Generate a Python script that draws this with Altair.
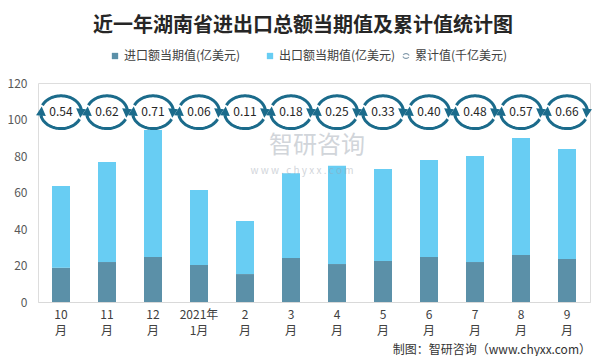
import altair as alt
import numpy as np
import pandas as pd

# ---------------- data ----------------
months = ["10月", "11月", "12月", "2021年1月", "2月", "3月", "4月", "5月", "6月", "7月", "8月", "9月"]
imports = [18.8, 21.9, 24.7, 20.3, 15.3, 24.1, 20.8, 22.5, 24.7, 21.9, 25.8, 23.6]
exports = [44.8, 54.8, 69.5, 41.1, 29.1, 46.4, 53.9, 50.4, 53.1, 58.1, 64.1, 60.2]
cumulative = [0.54, 0.62, 0.71, 0.06, 0.11, 0.18, 0.25, 0.33, 0.40, 0.48, 0.57, 0.66]
y_ticks = [0, 20, 40, 60, 80, 100, 120]

s_imp = "进口额当期值(亿美元)"
s_exp = "出口额当期值(亿美元)"
s_cum = "累计值(千亿美元)"

FONT = "Noto Sans CJK SC"
DARK = "#5b90a8"
LIGHT = "#68cdf3"
RING = "#1b6b8b"

bars = pd.DataFrame(
    [{"month": m, "series": s_imp, "value": v, "k": 0} for m, v in zip(months, imports)]
    + [{"month": m, "series": s_exp, "value": v, "k": 1} for m, v in zip(months, exports)]
)
cum = pd.DataFrame({"month": months, "cum": cumulative, "series": s_cum})

# ---------------- ring marker shape (style only) ----------------
RY = 0.8


def pt(deg):
    t = np.radians(deg)
    return np.cos(t), RY * np.sin(t)


def arc(a0, a1, n=40):
    pts = [pt(a) for a in np.linspace(a0, a1, n)]
    return "M" + " L".join(f"{x:.3f},{y:.3f}" for x, y in pts)


def head(base_deg, tip_deg, w=0.24):
    bx, by = pt(base_deg)
    tx, ty = pt(tip_deg)
    dx, dy = tx - bx, ty - by
    L = np.hypot(dx, dy)
    nx, ny = -dy / L, dx / L
    return (f"M{bx + nx * w:.3f},{by + ny * w:.3f} L{tx:.3f},{ty:.3f} "
            f"L{bx - nx * w:.3f},{by - ny * w:.3f} Z")


ARC_PATH = arc(205, 350) + " " + arc(25, 170)
HEAD_PATH = head(348, 20) + " " + head(168, 200)
RING_SIZE = 41 * 41

x_enc = alt.X(
    "month:N",
    sort=months,
    scale=alt.Scale(paddingInner=0.6087, paddingOuter=0.30435),
    axis=alt.Axis(
        title=None, ticks=False, domainColor="#d9d9d9", labelAngle=0,
        labelFontSize=12, labelColor="#404040", labelFont=FONT,
        labelPadding=7, labelLineHeight=16,
        labelExpr="datum.label == '2021年1月' ? ['2021年', '1月'] : [replace(datum.label, '月', ''), '月']",
    ),
)

y_scale = alt.Scale(domain=[0, 120], nice=False)
y_axis = alt.Axis(
    title=None, values=y_ticks, grid=False, ticks=False,
    domain=False, labelFontSize=12, labelColor="#595959", labelFont=FONT,
    labelPadding=11, labelOverlap=False,
)

bar_layer = alt.Chart(bars).mark_bar(size=18).encode(
    x=x_enc,
    y=alt.Y("value:Q", stack="zero", scale=y_scale, axis=y_axis),
    color=alt.Color(
        "series:N",
        scale=alt.Scale(domain=[s_imp, s_exp], range=[DARK, LIGHT]),
        legend=alt.Legend(
            title=None, orient="none", legendX=71, legendY=-33, direction="horizontal",
            symbolType="square", symbolSize=40, symbolStrokeWidth=0,
            labelFontSize=12, labelColor="#404040", labelFont=FONT,
            labelOffset=3, columnPadding=23, padding=0,
        ),
    ),
    order=alt.Order("k:Q"),
)

y_ring = alt.Y(datum=104, scale=y_scale, axis=y_axis)

ring_layer = alt.Chart(cum).mark_point(filled=False, strokeWidth=3, opacity=1, color=RING).encode(
    x=alt.X("month:N", sort=months),
    y=y_ring,
    shape=alt.Shape(
        "series:N",
        scale=alt.Scale(domain=[s_cum], range=[ARC_PATH]),
        legend=alt.Legend(
            title=None, orient="none", legendX=362, legendY=-33,
            symbolSize=36, symbolStrokeColor="#8aa0b0", symbolStrokeWidth=1.2,
            labelFontSize=12, labelColor="#404040", labelFont=FONT,
            labelOffset=3, padding=0,
        ),
    ),
    size=alt.value(RING_SIZE),
)

head_layer = alt.Chart(cum).mark_point(
    shape=HEAD_PATH, filled=True, opacity=1, color=RING, size=RING_SIZE, strokeWidth=0
).encode(
    x=alt.X("month:N", sort=months),
    y=y_ring,
)

text_layer = alt.Chart(cum).mark_text(
    fontSize=12, font=FONT, color="#262626", baseline="middle"
).encode(
    x=alt.X("month:N", sort=months),
    y=y_ring,
    text=alt.Text("cum:Q", format=".2f"),
)

note = pd.DataFrame({"t": ["制图：智研咨询（www.chyxx.com）"]})
footer = alt.Chart(note).mark_text(
    fontSize=12, font=FONT, color="#333333", align="right", baseline="middle"
).encode(x=alt.value(553), y=alt.value(266.5), text="t:N")

wm = pd.DataFrame({"t": ["智研咨询"]})
wm2 = pd.DataFrame({"t": ["w w w . c h y x x . c o m"]})
watermark = alt.Chart(wm).mark_text(
    fontSize=24, font=FONT, color="#9aa3ae", opacity=0.45, align="center", baseline="middle"
).encode(x=alt.value(279), y=alt.value(63), text="t:N")
watermark2 = alt.Chart(wm2).mark_text(
    fontSize=10, font=FONT, color="#9aa3ae", opacity=0.45, align="center", baseline="middle"
).encode(x=alt.value(264), y=alt.value(88), text="t:N")

chart = alt.layer(
    bar_layer, watermark, watermark2, ring_layer, head_layer, text_layer, footer
).resolve_legend(color="independent", shape="independent").properties(
    width=552,
    height=219,
    autosize=alt.AutoSizeParams(type="none"),
    padding={"left": 30, "top": 75, "right": 7, "bottom": 54},
    title=alt.TitleParams(
        "近一年湖南省进出口总额当期值及累计值统计图",
        fontSize=20, font=FONT, fontWeight="bold", color="#262626",
        anchor="middle", frame="group", dx=-11, offset=14,
    ),
).configure_view(stroke=None).configure(background="white").configure_axisY(labelOverlap=False)

chart.save("out.html", embed_options={"renderer": "svg", "actions": False})
